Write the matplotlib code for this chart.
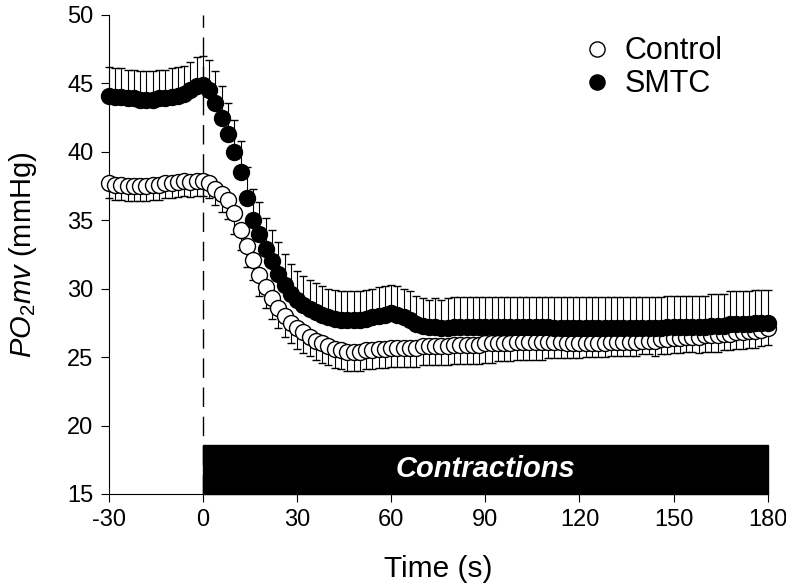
import numpy as np
import matplotlib
matplotlib.use("Agg")
import matplotlib.pyplot as plt
from matplotlib.patches import Rectangle

plt.rcParams['font.family'] = ['Liberation Sans', 'DejaVu Sans']
plt.rcParams['mathtext.fontset'] = 'custom'
plt.rcParams['mathtext.rm'] = 'Liberation Sans'
plt.rcParams['mathtext.it'] = 'Liberation Sans:italic'
plt.rcParams['axes.unicode_minus'] = False

# time points (s), one every 2 s
time_s = list(range(-30, 182, 2))

control = [37.7, 37.6, 37.6, 37.5, 37.5, 37.5, 37.5, 37.6, 37.6, 37.7,
           37.7, 37.8, 37.9, 37.8, 37.9,
           37.9, 37.7, 37.3, 36.9, 36.5, 35.5, 34.3, 33.1, 32.1, 31.0,
           30.1, 29.3, 28.6, 28.0, 27.5, 27.1, 26.8, 26.5, 26.2, 26.0,
           25.8, 25.6, 25.5, 25.4, 25.4, 25.4, 25.5, 25.5, 25.6, 25.6,
           25.7, 25.7, 25.7, 25.7, 25.7, 25.8, 25.8, 25.8, 25.8, 25.8,
           25.9, 25.9, 25.9, 25.9, 25.9, 26.0, 26.0, 26.0, 26.0, 26.0,
           26.1, 26.1, 26.1, 26.1, 26.1, 26.1, 26.1, 26.1, 26.0, 26.0,
           26.0, 26.0, 26.0, 26.0, 26.0, 26.1, 26.1, 26.1, 26.1, 26.1,
           26.2, 26.2, 26.2, 26.3, 26.3, 26.4, 26.4, 26.5, 26.5, 26.5,
           26.6, 26.6, 26.6, 26.7, 26.7, 26.8, 26.8, 26.9, 26.9, 27.0,
           27.1]
control_se = [1.1, 1.1, 1.1, 1.1, 1.1, 1.1, 1.1, 1.1, 1.1, 1.1,
              1.1, 1.1, 1.1, 1.1, 1.1,
              1.1, 1.1, 1.2, 1.3, 1.4, 1.5, 1.5, 1.5, 1.5, 1.5,
              1.5, 1.5, 1.5, 1.5, 1.5, 1.5, 1.5, 1.4, 1.4, 1.4,
              1.4, 1.4, 1.4, 1.4, 1.4, 1.4, 1.4, 1.4, 1.4, 1.4,
              1.4, 1.4, 1.4, 1.4, 1.4, 1.4, 1.4, 1.4, 1.4, 1.4,
              1.4, 1.4, 1.4, 1.4, 1.4, 1.4, 1.4, 1.3, 1.3, 1.3,
              1.3, 1.3, 1.3, 1.3, 1.3, 1.2, 1.2, 1.2, 1.1, 1.1,
              1.1, 1.0, 1.0, 1.0, 1.0, 1.0, 1.0, 1.0, 1.0, 1.0,
              1.0, 1.0, 1.1, 1.1, 1.1, 1.1, 1.1, 1.1, 1.1, 1.2,
              1.2, 1.2, 1.2, 1.2, 1.2, 1.2, 1.2, 1.2, 1.2, 1.2,
              1.2]

smtc = [44.1, 44.0, 44.0, 43.9, 43.9, 43.8, 43.8, 43.8, 43.9, 43.9,
        44.0, 44.1, 44.2, 44.5, 44.8,
        44.9, 44.5, 43.6, 42.5, 41.3, 40.0, 38.5, 36.6, 35.0, 34.0,
        32.9, 32.0, 31.1, 30.3, 29.6, 29.2, 28.8, 28.5, 28.3, 28.1,
        27.9, 27.8, 27.7, 27.7, 27.7, 27.7, 27.8, 27.9, 28.0, 28.1,
        28.2, 28.1, 27.9, 27.7, 27.4, 27.3, 27.2, 27.2, 27.1, 27.1,
        27.2, 27.2, 27.2, 27.2, 27.2, 27.2, 27.2, 27.2, 27.2, 27.2,
        27.2, 27.2, 27.2, 27.2, 27.2, 27.2, 27.1, 27.1, 27.1, 27.1,
        27.1, 27.1, 27.1, 27.1, 27.1, 27.1, 27.1, 27.1, 27.1, 27.1,
        27.1, 27.1, 27.1, 27.1, 27.2, 27.2, 27.2, 27.2, 27.2, 27.2,
        27.2, 27.3, 27.3, 27.3, 27.4, 27.4, 27.4, 27.4, 27.5, 27.5,
        27.5]
smtc_se = [2.1, 2.1, 2.1, 2.1, 2.1, 2.1, 2.1, 2.1, 2.1, 2.1,
           2.1, 2.1, 2.1, 2.1, 2.1,
           2.1, 2.2, 2.3, 2.3, 2.3, 2.3, 2.3, 2.3, 2.3, 2.3,
           2.3, 2.3, 2.3, 2.2, 2.2, 2.1, 2.1, 2.1, 2.1, 2.1,
           2.1, 2.1, 2.1, 2.1, 2.1, 2.1, 2.1, 2.1, 2.1, 2.1,
           2.1, 2.1, 2.1, 2.1, 2.1, 2.0, 2.0, 2.1, 2.1, 2.2,
           2.2, 2.2, 2.2, 2.2, 2.2, 2.2, 2.2, 2.2, 2.2, 2.2,
           2.2, 2.2, 2.2, 2.2, 2.2, 2.2, 2.3, 2.3, 2.3, 2.3,
           2.3, 2.3, 2.3, 2.3, 2.3, 2.3, 2.3, 2.3, 2.3, 2.3,
           2.3, 2.3, 2.3, 2.3, 2.3, 2.3, 2.3, 2.3, 2.3, 2.3,
           2.3, 2.3, 2.3, 2.3, 2.4, 2.4, 2.4, 2.4, 2.4, 2.4,
           2.4]

contraction_start, contraction_end = 0, 180
xticks = [-30, 0, 30, 60, 90, 120, 150, 180]
yticks = [15, 20, 25, 30, 35, 40, 45, 50]

zeros = np.zeros(len(time_s))

fig = plt.figure(figsize=(7.86, 5.88), dpi=100)
ax = fig.add_axes([0.1384, 0.16, 0.8384, 0.8145])

ax.axvline(0, color='black', lw=1.0, dashes=(14, 7), zorder=1)

ax.errorbar(time_s, control, yerr=[control_se, zeros], fmt='o', ms=11.5,
            mfc='white', mec='black', mew=1.0, ecolor='black', elinewidth=0.8,
            capsize=3.2, capthick=0.8, clip_on=False, label='Control', zorder=3)
ax.errorbar(time_s, smtc, yerr=[zeros, smtc_se], fmt='o', ms=11.5,
            mfc='black', mec='black', mew=1.0, ecolor='black', elinewidth=0.8,
            capsize=3.2, capthick=0.8, clip_on=False, label='SMTC', zorder=4)

ax.add_patch(Rectangle((contraction_start, 15), contraction_end - contraction_start, 3.6,
                       facecolor='black', edgecolor='black', zorder=5, clip_on=False))
ax.text(90, 16.85, 'Contractions', color='white', fontsize=21, fontweight='bold',
        fontstyle='italic', ha='center', va='center', zorder=6)

ax.set_xlim(-30, 180)
ax.set_ylim(15, 50)
ax.set_xticks(xticks)
ax.set_yticks(yticks)
ax.tick_params(axis='both', direction='out', length=6, width=0.8, labelsize=17, pad=5)
for side in ['top', 'right']:
    ax.spines[side].set_visible(False)
for side in ['left', 'bottom']:
    ax.spines[side].set_linewidth(0.8)

ax.set_xlabel('Time (s)', fontsize=21.5, labelpad=17)
ax.set_ylabel(r'$\mathit{PO}_{2}\mathit{mv}$ (mmHg)', fontsize=21, labelpad=20)

handles, labels = ax.get_legend_handles_labels()
handles = [h[0] for h in handles]
ax.legend(handles, labels, loc='upper left', bbox_to_anchor=(0.685, 1.0),
          frameon=False, fontsize=22, handletextpad=0.4, handlelength=1.0,
          borderpad=0.2, labelspacing=0.1, markerscale=0.95)

fig.savefig('out.png', dpi=100)
